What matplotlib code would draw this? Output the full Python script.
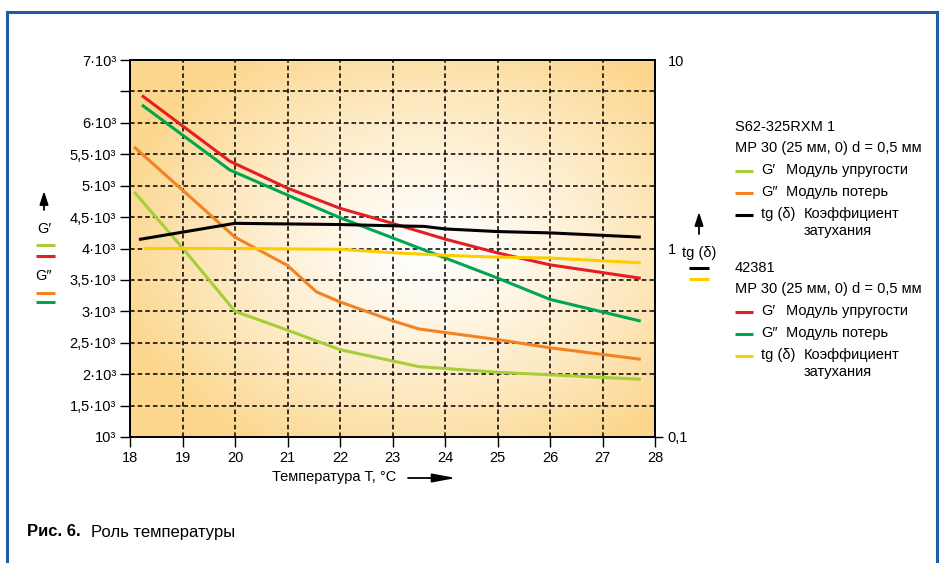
import numpy as np
import matplotlib
matplotlib.use("Agg")
import matplotlib.pyplot as plt
from matplotlib.lines import Line2D
from matplotlib.patches import FancyArrowPatch

W, H = 945, 563

# S62-325RXM 1
t_g1_s62 = [18.1, 19, 20, 21, 22, 23.5, 25, 26, 27.7]
g1_s62 = [4880, 4010, 3000, 2700, 2390, 2120, 2030, 1990, 1920]
t_g2_s62 = [18.1, 19, 20, 21, 21.55, 22, 23, 23.5, 25, 26, 27.7]
g2_s62 = [5600, 4930, 4180, 3730, 3310, 3150, 2850, 2720, 2550, 2420, 2240]
t_tan_s62 = [18.2, 20, 21, 22, 23, 23.6, 24, 25, 26, 27.7]
tan_s62 = [1.12, 1.36, 1.35, 1.34, 1.32, 1.31, 1.27, 1.23, 1.21, 1.15]

# 42381
t_g1_423 = [18.25, 19.9, 21, 22, 23, 24, 25, 26, 27.7]
g1_423 = [6420, 5390, 4960, 4640, 4400, 4150, 3930, 3740, 3530]
t_g2_423 = [18.25, 19.9, 21, 22, 23, 24, 25, 26, 27.7]
g2_423 = [6270, 5250, 4850, 4490, 4170, 3850, 3530, 3190, 2850]
t_tan_423 = [18.3, 20, 22, 23, 24, 25, 26, 27.7]
tan_423 = [1.0, 1.0, 0.99, 0.95, 0.92, 0.90, 0.89, 0.84]

g_ticks = [1000, 1500, 2000, 2500, 3000, 3500, 4000, 4500, 5000, 5500, 6000, 6500, 7000]
g_labels = ["10³", "1,5·10³", "2·10³", "2,5·10³", "3·10³", "3,5·10³", "4·10³",
            "4,5·10³", "5·10³", "5,5·10³", "6·10³", "", "7·10³"]
tan_ticks = [0.1, 1, 10]
tan_labels = ["0,1", "1", "10"]
temp_ticks = list(range(18, 29))

LIGHT_GREEN = "#a6ce39"
ORANGE = "#f58220"
RED = "#e31e24"
GREEN = "#00a651"
YELLOW = "#ffcc00"
BLUE = "#1f5ca8"


def fx(x):
    return x / W


def fy(y):
    return 1 - y / H


def gradient_bg(ax):
    ny, nx = 200, 280
    xx, yy = np.meshgrid(np.linspace(0, 1, nx), np.linspace(0, 1, ny))
    # white centre around the middle, orange at the corners
    d = np.sqrt(((xx - 0.57) / 0.62) ** 2 + ((yy - 0.50) / 0.62) ** 2)
    t = np.clip(d, 0, 1) ** 1.3
    white = np.array([1.0, 1.0, 1.0])
    orange = np.array([252, 214, 140]) / 255
    img = white[None, None, :] * (1 - t[..., None]) + orange[None, None, :] * t[..., None]
    ax.imshow(img, extent=[0, 1, 0, 1], transform=ax.transAxes, aspect="auto",
              origin="lower", zorder=0, interpolation="bilinear")


def seg(fig, x1, x2, y, color, lw=2.2):
    fig.add_artist(Line2D([fx(x1), fx(x2)], [fy(y), fy(y)], color=color, lw=lw,
                          transform=fig.transFigure, solid_capstyle="butt"))


def arrow(fig, x1, y1, x2, y2, hl=8, hw=2.6):
    fig.add_artist(FancyArrowPatch(
        (fx(x1), fy(y1)), (fx(x2), fy(y2)), transform=fig.transFigure,
        arrowstyle=f"-|>,head_length={hl},head_width={hw}", color="black", lw=1.3,
        mutation_scale=1, shrinkA=0, shrinkB=0))


def main():
    plt.rcParams["font.family"] = ["Liberation Sans", "DejaVu Sans"]
    fig = plt.figure(figsize=(W / 100, H / 100), dpi=100)

    ax = fig.add_axes([fx(130), fy(437), fx(655) - fx(130), fy(60) - fy(437)])
    gradient_bg(ax)
    ax.set_xlim(18, 28)
    ax.set_ylim(1000, 7000)
    ax.set_xticks(temp_ticks)
    ax.set_yticks(g_ticks)
    ax.set_yticklabels(g_labels)
    ax.tick_params(direction="out", length=7, width=1, labelsize=10.5, pad=3)
    ax.tick_params(axis="x", pad=3)
    ax.grid(True, color="black", linestyle=(0, (3, 2)), linewidth=1.1)
    for sp in ax.spines.values():
        sp.set_linewidth(1.3)

    ax.plot(t_g1_s62, g1_s62, color=LIGHT_GREEN, lw=2.2, zorder=3)
    ax.plot(t_g2_s62, g2_s62, color=ORANGE, lw=2.2, zorder=3)
    ax.plot(t_g1_423, g1_423, color=RED, lw=2.2, zorder=3)
    ax.plot(t_g2_423, g2_423, color=GREEN, lw=2.2, zorder=3)

    ax2 = ax.twinx()
    ax2.set_yscale("log")
    ax2.set_ylim(0.1, 10)
    ax2.yaxis.set_major_locator(matplotlib.ticker.FixedLocator(tan_ticks))
    ax2.yaxis.set_minor_locator(matplotlib.ticker.NullLocator())
    ax2.set_yticklabels(tan_labels)
    ax2.tick_params(direction="out", length=6, width=1, labelsize=10.5, pad=3)
    # only the 0,1 tick has a mark in the original
    for tk in ax2.yaxis.get_major_ticks()[1:]:
        tk.tick2line.set_visible(False)
    for sp in ax2.spines.values():
        sp.set_linewidth(1.3)
    ax2.plot(t_tan_s62, tan_s62, color="black", lw=2.2, zorder=3)
    ax2.plot(t_tan_423, tan_423, color=YELLOW, lw=2.2, zorder=3)

    # left axis legend marks
    arrow(fig, 44, 210, 44, 191)
    fig.text(fx(44), fy(229), "G′", ha="center", va="center", fontsize=10.5)
    seg(fig, 36, 55, 245, LIGHT_GREEN)
    seg(fig, 36, 55, 256, RED)
    fig.text(fx(44), fy(276), "G″", ha="center", va="center", fontsize=10.5)
    seg(fig, 36, 55, 293, ORANGE)
    seg(fig, 36, 55, 302, GREEN)

    # right axis legend marks
    arrow(fig, 699, 234, 699, 212)
    fig.text(fx(699), fy(253), "tg (δ)", ha="center", va="center", fontsize=10.5)
    seg(fig, 689, 709, 268, "black")
    seg(fig, 689, 709, 279, YELLOW)

    # sample legends
    blocks = [
        ("S62-325RXM 1", 127, [(LIGHT_GREEN, "G′", "Модуль упругости"),
                               (ORANGE, "G″", "Модуль потерь"),
                               ("black", "tg (δ)", "Коэффициент")]),
        ("42381", 268, [(RED, "G′", "Модуль упругости"),
                        (GREEN, "G″", "Модуль потерь"),
                        (YELLOW, "tg (δ)", "Коэффициент")]),
    ]
    for title, y0, items in blocks:
        fig.text(fx(735), fy(y0), title, va="center", fontsize=10.5)
        fig.text(fx(735), fy(y0 + 21), "MP 30 (25 мм, 0) d = 0,5 мм", va="center", fontsize=10.5)
        y = y0 + 43
        for color, sym, desc in items:
            seg(fig, 735, 753, y + 1, color)
            fig.text(fx(761), fy(y), sym, va="center", fontsize=10.5)
            dx = 804 if sym.startswith("tg") else 786
            fig.text(fx(dx), fy(y), desc, va="center", fontsize=10.5)
            y += 22
        fig.text(fx(804), fy(y - 5), "затухания", va="center", fontsize=10.5)

    # x axis label
    fig.text(fx(272), fy(477), "Температура T, °C", va="center", fontsize=10.5)
    arrow(fig, 408, 478, 456, 478, hl=14, hw=2.6)

    # caption
    fig.text(fx(27), fy(532), "Рис. 6.", va="center", fontsize=12, fontweight="bold")
    fig.text(fx(91), fy(532), "Роль температуры", va="center", fontsize=12)

    # blue frame
    for xs, ys in [([7, 7], [12, H]), ([7, 937], [12, 12]), ([937, 937], [12, H])]:
        fig.add_artist(Line2D([fx(x) for x in xs], [fy(y) for y in ys], color=BLUE,
                              lw=2.2, transform=fig.transFigure))

    fig.savefig("out.png", dpi=100)
    plt.close(fig)


if __name__ == "__main__":
    main()
